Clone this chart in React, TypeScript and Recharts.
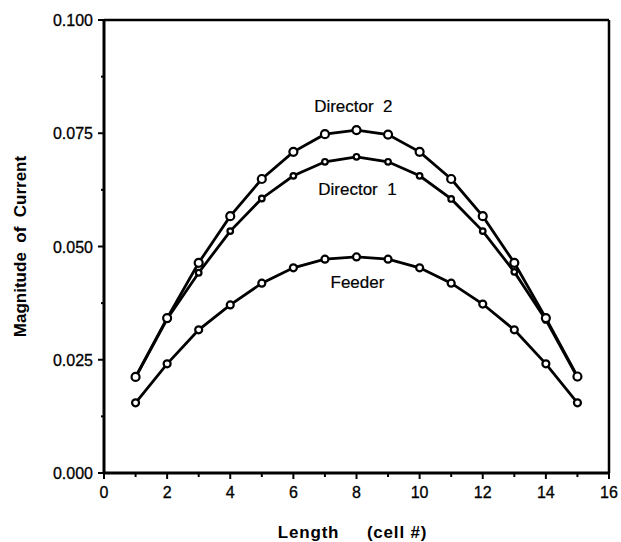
import React from 'react';
import { LineChart, Line, XAxis, YAxis, ReferenceLine, ReferenceDot } from 'recharts';

// Cell index along the element
const cells = [1, 2, 3, 4, 5, 6, 7, 8, 9, 10, 11, 12, 13, 14, 15];

// Current magnitude on each element
const director2 = [0.0212, 0.0342, 0.0464, 0.0567, 0.0649, 0.0709, 0.0748, 0.0757, 0.0747, 0.0709, 0.0649, 0.0567, 0.0464, 0.0342, 0.0213];
const director1 = [0.0211, 0.034, 0.0442, 0.0534, 0.0606, 0.0656, 0.0687, 0.0698, 0.0687, 0.0656, 0.0605, 0.0534, 0.0444, 0.0338, 0.0211];
const feeder = [0.0155, 0.0241, 0.0316, 0.0371, 0.0419, 0.0453, 0.0472, 0.0477, 0.0472, 0.0453, 0.0419, 0.0373, 0.0316, 0.0241, 0.0155];

// Axis ticks (major ones get a label, the rest are minor marks)
const xTicks = [0, 1, 2, 3, 4, 5, 6, 7, 8, 9, 10, 11, 12, 13, 14, 15, 16];
const xMajor = [0, 2, 4, 6, 8, 10, 12, 14, 16];
const yTicks = [0, 0.0125, 0.025, 0.0375, 0.05, 0.0625, 0.075, 0.0875, 0.1];
const yMajor = [0, 0.025, 0.05, 0.075, 0.1];

// Curve labels
const curveLabels = [
  { text: 'Director  2', x: 7.9, y: 0.0808 },
  { text: 'Director  1', x: 8.03, y: 0.0626 },
  { text: 'Feeder', x: 8.03, y: 0.0421 },
];

const data = cells.map((c, i) => ({
  cell: c,
  director2: director2[i],
  director1: director1[i],
  feeder: feeder[i],
}));

const FONT = '"Liberation Sans", Arial, Helvetica, sans-serif';

const XTick = (props: any) => {
  const { x, y, payload } = props;
  const major = xMajor.includes(payload.value);
  return (
    <g>
      <line x1={x} y1={y} x2={x} y2={y + (major ? 6 : 4)} stroke="#000" strokeWidth={2} />
      {major && (
        <text x={x} y={y + 25} textAnchor="middle" fontSize={16} fontFamily={FONT} fill="#000" stroke="#000" strokeWidth={0.3}>
          {payload.value}
        </text>
      )}
    </g>
  );
};

const YTick = (props: any) => {
  const { x, y, payload } = props;
  const major = yMajor.some((v) => Math.abs(v - payload.value) < 1e-9);
  return (
    <g>
      <line x1={x} y1={y} x2={x - (major ? 6 : 3)} y2={y} stroke="#000" strokeWidth={2} />
      {major && (
        <text x={x - 11} y={y + 6} textAnchor="end" fontSize={16} fontFamily={FONT} fill="#000" stroke="#000" strokeWidth={0.3}>
          {payload.value.toFixed(3)}
        </text>
      )}
    </g>
  );
};

const XTitle = (props: any) => {
  const { viewBox } = props;
  const cx = viewBox.x + viewBox.width / 2;
  return (
    <text x={cx - 4} y={viewBox.y + 65} textAnchor="middle" fontSize={17} fontWeight="bold" fontFamily={FONT} fill="#000" style={{ whiteSpace: 'pre', letterSpacing: 0.8 }}>
      {'Length     (cell #)'}
    </text>
  );
};

const YTitle = (props: any) => {
  const { viewBox } = props;
  const cy = viewBox.y + viewBox.height / 2;
  const cx = viewBox.x - 24;
  return (
    <text x={cx} y={cy} transform={`rotate(-90 ${cx} ${cy})`} textAnchor="middle" dominantBaseline="central" fontSize={17} fontWeight="bold" fontFamily={FONT} fill="#000" style={{ whiteSpace: 'pre' }}>
      {'Magnitude  of  Current'}
    </text>
  );
};

const makeCurveLabel = (text: string) => (props: any) => {
  const { viewBox } = props;
  return (
    <text x={viewBox.x} y={viewBox.y} textAnchor="middle" dominantBaseline="central" fontSize={17} fontFamily={FONT} fill="#000" stroke="#000" strokeWidth={0.2} style={{ whiteSpace: 'pre' }}>
      {text}
    </text>
  );
};

export default function App() {
  return (
    <div style={{ position: 'absolute', left: 0, top: 0, background: '#fff' }}>
      <LineChart width={621} height={542} data={data} margin={{ top: 20, right: 12, bottom: 39, left: 44 }}>
        <XAxis
          dataKey="cell"
          type="number"
          domain={[0, 16]}
          ticks={xTicks}
          interval={0}
          tickSize={0}
          tickMargin={0}
          tickLine={false}
          tick={<XTick />}
          axisLine={{ stroke: '#000', strokeWidth: 3 }}
          height={30}
          label={<XTitle />}
        />
        <YAxis
          type="number"
          domain={[0, 0.1]}
          ticks={yTicks}
          interval={0}
          tickSize={0}
          tickMargin={0}
          tickLine={false}
          tick={<YTick />}
          axisLine={{ stroke: '#000', strokeWidth: 3 }}
          width={60}
          label={<YTitle />}
        />
        <ReferenceLine y={0.1} stroke="#000" strokeWidth={2.5} />
        <ReferenceLine x={16} stroke="#000" strokeWidth={2.5} />
        <Line type="linear" dataKey="feeder" stroke="#000" strokeWidth={2.8} isAnimationActive={false} activeDot={false}
          dot={{ r: 3.5, fill: '#fff', stroke: '#000', strokeWidth: 2.2 }} />
        <Line type="linear" dataKey="director1" stroke="#000" strokeWidth={2.8} isAnimationActive={false} activeDot={false}
          dot={{ r: 2.8, fill: '#fff', stroke: '#000', strokeWidth: 2.2 }} />
        <Line type="linear" dataKey="director2" stroke="#000" strokeWidth={2.8} isAnimationActive={false} activeDot={false}
          dot={{ r: 4, fill: '#fff', stroke: '#000', strokeWidth: 2.2 }} />
        {curveLabels.map((l) => (
          <ReferenceDot key={l.text} x={l.x} y={l.y} r={0} fill="none" stroke="none" label={makeCurveLabel(l.text)} />
        ))}
      </LineChart>
    </div>
  );
}
